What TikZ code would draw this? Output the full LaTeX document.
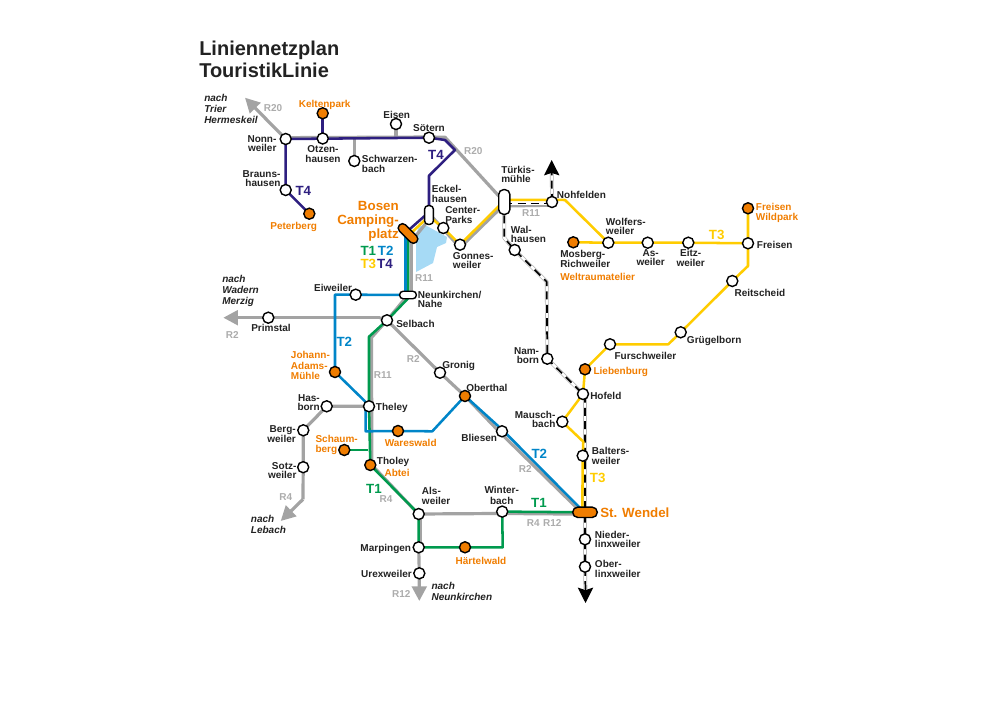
\documentclass[tikz,border=0pt]{standalone}
\usepackage{fontspec}
\setmainfont{Liberation Sans}
\usetikzlibrary{arrows.meta}
\definecolor{cor}{HTML}{F07D00}
\definecolor{cg}{HTML}{009A4E}
\definecolor{cb}{HTML}{0085C8}
\definecolor{cy}{HTML}{FFCC00}
\definecolor{cd}{HTML}{2E1F80}
\definecolor{cgr}{HTML}{A3A3A3}
\definecolor{clk}{HTML}{A6DAF5}
\definecolor{ctx}{HTML}{222222}
\pgfdeclarelayer{lines}
\pgfsetlayers{lines,main}
\tikzset{
  x=0.75pt,y=-0.75pt,
  st/.style={circle,draw=black,fill=white,line width=1.05pt,minimum size=8.3pt,inner sep=0pt},
  og/.style={st,fill=cor},
  pill/.style={rectangle,draw=black,fill=white,line width=1.05pt,rounded corners=2.6pt,inner sep=0pt},
  txt/.style={inner sep=0pt,text=ctx,align=left,font=\fontsize{7.5}{6.9}\selectfont\bfseries},
  otx/.style={txt,text=cor},
  rtx/.style={txt,text=cgr!90!white},
  itx/.style={txt,font=\fontsize{7.5}{8.2}\selectfont\bfseries\itshape},
  ltx/.style={inner sep=0pt,font=\fontsize{10}{10}\selectfont\bfseries},
  big/.style={inner sep=0pt,text=cor,align=right,font=\fontsize{10}{10.5}\selectfont\bfseries},
  mm/.style={anchor=mid,yshift=-.7pt},
  mw/.style={anchor=mid west,yshift=-.7pt},
  me/.style={anchor=mid east,yshift=-.7pt},
  gl/.style={draw=cgr,line width=2.4pt,line join=round},
  garr/.style={gl,-{Triangle[length=11pt,width=11pt]}},
  t1/.style={draw=cg,line width=1.9pt,line join=round},
  t2/.style={draw=cb,line width=1.9pt,line join=round},
  t3/.style={draw=cy,line width=1.9pt,line join=round},
  t4/.style={draw=cd,line width=1.9pt,line join=round},
  rail/.style={draw=cgr!85,line width=.5pt,double=white,double distance=1.8pt,line join=round,
    postaction={draw=black,double=none,line width=1.3pt,dash pattern=on 6pt off 4pt}},
  barr/.style={draw=black,line width=1pt,-{Stealth[length=11.5pt,width=11.5pt,inset=1.8pt]}}
}
\begin{document}
\begin{tikzpicture}
\useasboundingbox (0,0) rectangle (1000,706);
% stations
\node[st] (nonn) at (285.7,139) {};
\node[st] (otz) at (322.7,138.5) {};
\node[og] (kelt) at (322.7,113.3) {};
\node[st] (eisen) at (396,124) {};
\node[st] (schw) at (354.3,161) {};
\node[st] (soet) at (429,137.7) {};
\node[st] (brau) at (285.7,190) {};
\node[og] (pete) at (309.3,213.7) {};
\node[pill,minimum width=6.6pt,minimum height=14pt] (eck) at (429,215) {};
\node[pill,rounded corners=3.6pt,minimum width=8.4pt,minimum height=18.5pt] (turk) at (504.3,202) {};
\node[st] (cent) at (443.3,228) {};
\node[st] (gonn) at (460,244.7) {};
\node[st] (nohf) at (552,202) {};
\node[st] (walh) at (514.7,250) {};
\node[pill,fill=cor,rounded corners=3pt,rotate=-45,minimum width=18pt,minimum height=6.4pt] (bosen) at (408,233.5) {};
\node[pill,minimum width=12.5pt,minimum height=5.6pt] (neun) at (408,295) {};
\node[st] (eiw) at (355.7,294.7) {};
\node[st] (selb) at (387,320.3) {};
\node[st] (prim) at (268.3,317.7) {};
\node[st] (gron) at (440,372.7) {};
\node[og] (ober) at (465,396) {};
\node[st] (blie) at (502,431.3) {};
\node[og] (joha) at (335,372) {};
\node[st] (thel) at (369,406.3) {};
\node[st] (hasb) at (326.7,406.3) {};
\node[st] (berg) at (303.3,430.3) {};
\node[st] (sotz) at (303.2,467.2) {};
\node[og] (ware) at (398,431) {};
\node[og] (scha) at (344.3,450) {};
\node[og] (thol) at (370.3,465) {};
\node[st] (alsw) at (418.7,514) {};
\node[st] (marp) at (418.7,547.3) {};
\node[st] (urex) at (419.3,573.3) {};
\node[og] (hart) at (465,547.3) {};
\node[st] (wint) at (502.2,511.6) {};
\node[pill,fill=cor,rounded corners=3.9pt,minimum width=18.5pt,minimum height=7.8pt] (wend) at (585,512.3) {};
\node[st] (nied) at (585,539.3) {};
\node[st] (olin) at (585,566.7) {};
\node[st] (balt) at (582.7,455.7) {};
\node[st] (maus) at (562.3,421.7) {};
\node[st] (hofe) at (583,394) {};
\node[og] (lieb) at (585,369.3) {};
\node[st] (nam) at (547.3,358.7) {};
\node[st] (furs) at (610,344.3) {};
\node[st] (grug) at (680.7,332.3) {};
\node[st] (reit) at (732.3,281) {};
\node[st] (frei) at (748,243.3) {};
\node[og] (fwil) at (748,208.3) {};
\node[st] (eitz) at (688.3,242.7) {};
\node[st] (asw) at (647.7,242.7) {};
\node[st] (wolf) at (608.3,242.7) {};
\node[og] (mosb) at (573.3,242.3) {};
% free ends and bends
\coordinate (r20tip) at (245,97.7);
\coordinate (r20a) at (445,137.2);
\coordinate (eisj) at (396,138);
\coordinate (schj) at (354.3,138);
\coordinate (t4a) at (445,140);
\coordinate (t4b) at (455,150);
\coordinate (t4c) at (429,175.7);
\coordinate (r2tip) at (223.3,317.7);
\coordinate (r4c) at (303,499.3);
\coordinate (r4tip) at (280.7,521);
\coordinate (r12tip) at (419.3,601);
\coordinate (sela) at (369,336.7);
\coordinate (selg) at (371.5,337.5);
\coordinate (selw) at (380,317.7);
\coordinate (t2a) at (335,294.7);
\coordinate (t2b) at (365.7,402);
\coordinate (t2c) at (365.7,431.3);
\coordinate (t2d) at (432.3,431.3);
\coordinate (schj2) at (368.3,450);
\coordinate (hcor) at (502.7,547.3);
\coordinate (ra) at (504.3,238);
\coordinate (rb) at (546.7,281.7);
\coordinate (uptip) at (551.7,160);
\coordinate (dntip) at (585.5,603);
\coordinate (nh) at (565,200);
\coordinate (fa) at (748,266);
\coordinate (gk) at (668.3,344.3);
\coordinate (mk) at (583.3,441.7);
\begin{pgfonlayer}{lines}
% lake
\fill[clk] (418,226) -- (427,226) -- (447,237) -- (446,243) -- (437,247) -- (433,263) -- (416,272) -- (416,243) -- cycle;
% grey routes
\draw[garr] (nonn.center) -- (r20tip);
\draw[gl] ([yshift=1pt]nonn.center) -- ([yshift=.5pt]soet.center) -- (r20a) -- (turk.center);
\draw[gl] (eisen.center) -- (eisj);
\draw[gl] (schw.center) -- (schj);
\draw[garr] (selw) -- (r2tip);
\draw[gl] (selb.center) -- (selw);
\draw[gl] (selb.center) -- (gron.center) -- (ober.center) -- ([xshift=-1.2pt,yshift=-1.2pt]blie.center) -- ([xshift=-1.5pt,yshift=-1.2pt]wend.center);
\draw[gl] (selb.center) -- (neun.center);
\draw[gl] ([xshift=2.4pt]neun.center) -- ([xshift=2.4pt,yshift=-6pt]bosen.center) -- ([xshift=2pt,yshift=-1pt]eck.center);
\draw[gl] ([xshift=2pt,yshift=-1pt]eck.center) -- ([yshift=-2.2pt]gonn.center) -- ([yshift=-1.8pt]turk.center);
\draw[gl] ([yshift=-3pt]turk.center) -- ([yshift=-2.4pt]nohf.center);
\draw[gl] (selb.center) -- (selg) -- ([xshift=2pt]thel.center) -- ([xshift=1.2pt]thol.center);
\draw[gl] ([xshift=1.2pt]thol.center) -- ([xshift=1.2pt,yshift=-1.6pt]alsw.center) -- ([xshift=1.2pt]marp.center);
\draw[garr] (marp.center) -- (urex.center) -- (r12tip);
\draw[gl] (thel.center) -- (hasb.center) -- (berg.center) -- (sotz.center) -- (r4c);
\draw[garr] (r4c) -- (r4tip);
\draw[gl] (alsw.center) -- ([yshift=-1.4pt]wint.center) -- ([yshift=-1.4pt]wend.center);
% railway
\draw[rail] ([yshift=-1.2pt]turk.center) -- ([yshift=-1.2pt]nohf.center);
\draw[rail] (turk.center) -- (ra) -- (walh.center) -- (rb) -- (nam.center) -- (hofe.center) -- ([xshift=1.5pt]hofe.center) -- (wend.center) -- (nied.center) -- (olin.center) -- ([yshift=9pt]dntip);
\draw[rail] (nohf.center) -- ([yshift=-8pt]uptip);
\draw[barr] ([yshift=-11pt]uptip) -- (uptip);
\draw[barr] ([yshift=11pt]dntip) -- (dntip);
% T4
\draw[t4] (nonn.center) -- (soet.center) -- (t4a) -- (t4b) -- (t4c) -- (eck.center);
\draw[t4] (nonn.center) -- (brau.center) -- (pete.center);
\draw[t4] (kelt.center) -- (otz.center);
\draw[t4] ([xshift=-1.3pt,yshift=1pt]eck.center) -- ([xshift=-1.3pt,yshift=1pt]bosen.center);
% T3
\draw[t3] ([xshift=.8pt,yshift=-1pt]bosen.center) -- ([yshift=-1pt]eck.center) -- (cent.center) -- (gonn.center) -- ([yshift=1pt]turk.center);
\draw[t3] ([yshift=1.6pt]turk.center) -- ([yshift=1.6pt]nohf.center) -- (nh) -- (wolf.center);
\draw[t3] (mosb.center) -- (wolf.center) -- (asw.center) -- (eitz.center) -- (frei.center);
\draw[t3] (fwil.center) -- (frei.center) -- (fa) -- (reit.center) -- (grug.center) -- (gk) -- (furs.center) -- (lieb.center) -- (hofe.center) -- (maus.center) -- (mk) -- (balt.center) -- ([xshift=-2pt]wend.center);
% T1
\draw[t1] (bosen.center) -- (neun.center) -- ([xshift=1.5pt,yshift=-1pt]neun.center) -- (selb.center) -- (sela) -- (thel.center) -- (thol.center);
\draw[t1] (scha.center) -- (schj2);
\draw[t1] (thol.center) -- (alsw.center) -- (marp.center) -- (hart.center) -- (hcor) -- (wint.center) -- (wend.center);
% T2
\draw[t2] ([xshift=-2pt]bosen.center) -- ([xshift=-2pt]neun.center);
\draw[t2] (neun.center) -- (eiw.center) -- (t2a) -- (joha.center) -- (t2b) -- (t2c) -- (ware.center) -- (t2d) -- (ober.center) -- ([xshift=.7pt,yshift=.7pt]blie.center) -- ([xshift=-1.5pt,yshift=1pt]wend.center);
\end{pgfonlayer}
% title
\node[inner sep=0pt,anchor=base west,font=\fontsize{15}{15}\selectfont\bfseries,text=ctx] (title1) at (199,55.5) {Liniennetzplan};
\node[inner sep=0pt,anchor=base west,font=\fontsize{15}{15}\selectfont\bfseries,text=ctx] (title2) at (199,78) {TouristikLinie};
% labels
\node[itx,anchor=west] (l1) at (204,109) {nach\\Trier\\Hermeskeil};
\node[itx,anchor=west] (l2) at (222,290.5) {nach\\Wadern\\Merzig};
\node[itx,anchor=west] (l3) at (250.7,524) {nach\\Lebach};
\node[itx,anchor=west] (l4) at (431.3,591.5) {nach\\Neunkirchen};
\node[rtx] (r1) at (273,108) {R20};
\node[rtx] (r2) at (473.3,150.7) {R20};
\node[rtx] (r3) at (424,278.3) {R11};
\node[rtx] (r4) at (531,212.7) {R11};
\node[rtx] (r5) at (232.3,335.3) {R2};
\node[rtx] (r6) at (382.7,374.7) {R11};
\node[rtx] (r7) at (413.3,359.3) {R2};
\node[rtx] (r8) at (525.3,468.7) {R2};
\node[rtx] (r9) at (386,498.7) {R4};
\node[rtx] (r10) at (285.7,497) {R4};
\node[rtx] (r11) at (533.3,523) {R4};
\node[rtx] (r12) at (552.3,523) {R12};
\node[rtx] (r13) at (401.3,594.3) {R12};
\node[ltx,text=cd] (t41) at (436,155) {T4};
\node[ltx,text=cd] (t42) at (303.3,190.7) {T4};
\node[ltx,text=cg] (t11) at (368.3,251) {T1};
\node[ltx,text=cb] (t21) at (385.7,251) {T2};
\node[ltx,text=cy] (t31) at (368.3,263.7) {T3};
\node[ltx,text=cd] (t43) at (385,263.7) {T4};
\node[ltx,text=cy] (t32) at (716.7,235) {T3};
\node[ltx,text=cy] (t33) at (597.7,478) {T3};
\node[ltx,text=cb] (t22) at (344.3,341.7) {T2};
\node[ltx,text=cb] (t23) at (539.3,454) {T2};
\node[ltx,text=cg] (t12) at (374,489.3) {T1};
\node[ltx,text=cg] (t13) at (539,503.3) {T1};
\node[big,anchor=east] (l5) at (399,221.5) {Bosen\\Camping-\\platz};
\node[big,mw] (l6) at (600,513.3) {St. Wendel};
\node[otx,mm] (l7) at (324.7,103) {Keltenpark};
\node[otx,mm] (l8) at (293.7,224.7) {Peterberg};
\node[otx,mw] (l9) at (560,275.7) {Weltraumatelier};
\node[otx,anchor=west,font=\fontsize{7.5}{7.6}\selectfont\bfseries] (l10) at (755.7,212.5) {Freisen\\Wildpark};
\node[otx,mw] (l11) at (593.3,370) {Liebenburg};
\node[otx,mm] (l12) at (481,560) {Härtelwald};
\node[otx,anchor=west,font=\fontsize{7.5}{8}\selectfont\bfseries] (l13) at (290.7,365.7) {Johann-\\Adams-\\Mühle};
\node[otx,mm] (l14) at (410.7,441.7) {Wareswald};
\node[otx,anchor=west,font=\fontsize{7.5}{8}\selectfont\bfseries] (l15) at (315.3,445) {Schaum-\\berg};
\node[otx,mw] (l16) at (384.3,472) {Abtei};
\node[txt,anchor=east,align=right] (n1) at (276.7,143.4) {Nonn-\\weiler};
\node[txt,align=center] (n2) at (323,154) {Otzen-\\hausen};
\node[txt,mm] (n3) at (396.7,114) {Eisen};
\node[txt,mm] (n4) at (429,127.3) {Sötern};
\node[txt,anchor=west] (n5) at (361.7,164) {Schwarzen-\\bach};
\node[txt,anchor=east,align=right] (n6) at (280.7,179) {Brauns-\\hausen};
\node[txt,anchor=west] (n7) at (431.7,194) {Eckel-\\hausen};
\node[txt,anchor=west] (n8) at (445,215) {Center-\\Parks};
\node[txt,anchor=west] (n9) at (417.7,299.7) {Neunkirchen/\\Nahe};
\node[txt,anchor=west] (n10) at (501,174.7) {Türkis-\\mühle};
\node[txt,anchor=west] (n11) at (452.7,260.3) {Gonnes-\\weiler};
\node[txt,anchor=west] (n12) at (510.7,234.5) {Wal-\\hausen};
\node[txt,mw] (n13) at (556.7,194.3) {Nohfelden};
\node[txt,anchor=west] (n14) at (605.7,226.7) {Wolfers-\\weiler};
\node[txt,anchor=west] (n15) at (560,259) {Mosberg-\\Richweiler};
\node[txt,align=center] (n16) at (650.7,258) {As-\\weiler};
\node[txt,align=center] (n17) at (690.7,258) {Eitz-\\weiler};
\node[txt,mw] (n18) at (756.7,244) {Freisen};
\node[txt,mw] (n19) at (734.3,291.7) {Reitscheid};
\node[txt,mw] (n20) at (686.7,338.7) {Grügelborn};
\node[txt,mw] (n21) at (614.3,355.3) {Furschweiler};
\node[txt,mw] (n22) at (590,394.7) {Hofeld};
\node[txt,anchor=east,align=right] (n23) at (555.7,419.3) {Mausch-\\bach};
\node[txt,anchor=west] (n24) at (591.7,456) {Balters-\\weiler};
\node[txt,anchor=east,align=right] (n25) at (539.3,356) {Nam-\\born};
\node[txt,mw] (n26) at (466,386.7) {Oberthal};
\node[txt,me] (n27) at (497.3,437.3) {Bliesen};
\node[txt,align=center,font=\fontsize{7.5}{8.6}\selectfont\bfseries] (n28) at (501.7,495.5) {Winter-\\bach};
\node[txt,anchor=west] (n29) at (594.7,539.5) {Nieder-\\linxweiler};
\node[txt,anchor=west] (n30) at (594.7,569) {Ober-\\linxweiler};
\node[txt,me] (n31) at (352.3,286.7) {Eiweiler};
\node[txt,mm] (n32) at (271,327) {Primstal};
\node[txt,mw] (n33) at (396,322.7) {Selbach};
\node[txt,mw] (n34) at (442,364) {Gronig};
\node[txt,anchor=east,align=right] (n35) at (320,402.5) {Has-\\born};
\node[txt,mw] (n36) at (375.7,406) {Theley};
\node[txt,anchor=east,align=right] (n37) at (296,434) {Berg-\\weiler};
\node[txt,anchor=east,align=right] (n38) at (296.7,470.5) {Sotz-\\weiler};
\node[txt,mw] (n39) at (376.7,460.3) {Tholey};
\node[txt,anchor=west] (n40) at (421.7,496) {Als-\\weiler};
\node[txt,me] (n41) at (411.3,547.3) {Marpingen};
\node[txt,me] (n42) at (412,573.3) {Urexweiler};
\end{tikzpicture}
\end{document}
